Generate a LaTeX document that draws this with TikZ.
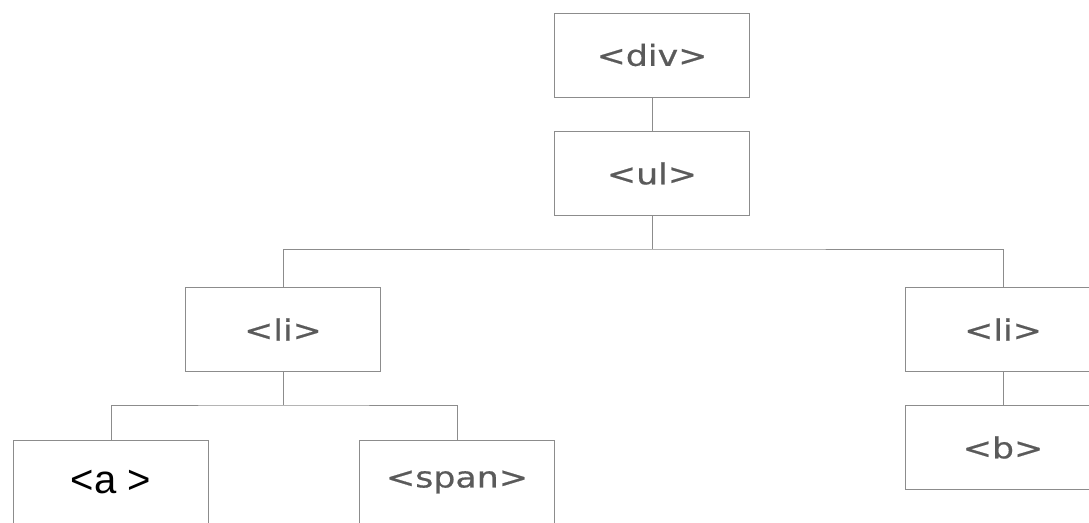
\documentclass[tikz,border=0pt]{standalone}
\usepackage{fontspec}
\setmainfont{DejaVu Sans}
\newfontfamily\tagfont[FakeStretch=1.2, FakeBold=0.6]{DejaVu Sans}
\newfontfamily\arialfont{Liberation Sans}
\usepackage{xcolor}
\usepackage{tikz}
\usetikzlibrary{positioning,calc}

\definecolor{boxline}{HTML}{8C8C8C}
\definecolor{tagtext}{HTML}{5A5A5A}

\begin{document}
\begin{tikzpicture}[x=1pt, y=-1pt,
		tagbox/.style={draw=boxline, line width=0.9pt, fill=white, minimum width=195pt, minimum height=84pt, inner sep=0, text=tagtext, font=\tagfont\fontsize{29}{32}\selectfont},
		link/.style={draw=boxline, line width=0.9pt}]
	\clip (0,0) rectangle (1089,522);
	\useasboundingbox (0,0) rectangle (1089,522);
	\fill[white] (0,0) rectangle (1089,522);
	% tree nodes
	\node[tagbox] (div) at (652, 55) {<div>};
	\node[tagbox] (ul) at (652, 173.5) {<ul>};
	\node[tagbox] (liA) at (283, 329.5) {<li>};
	\node[tagbox] (liB) at (1003, 329.5) {<li>};
	\node[tagbox, text=black, font=\arialfont\fontsize{40}{44}\selectfont] (a) at (111, 482) {<a >};
	\node[tagbox] (span) at (457, 482) {<span>};
	\node[tagbox] (b) at (1003, 447.5) {<b>};
	% joints
	\coordinate (ulJoin) at (652, 249);
	\coordinate (liJoin) at (283, 405);
	% connectors
	\draw[link] (div.south) -- (ul.north);
	\draw[link] (ul.south) -- (ulJoin);
	\draw[link] (liA.north) |- (ulJoin) -| (liB.north);
	\draw[link] (liA.south) -- (liJoin);
	\draw[link] (a.north) |- (liJoin) -| (span.north);
	\draw[link] (liB.south) -- (b.north);
\end{tikzpicture}
\end{document}
